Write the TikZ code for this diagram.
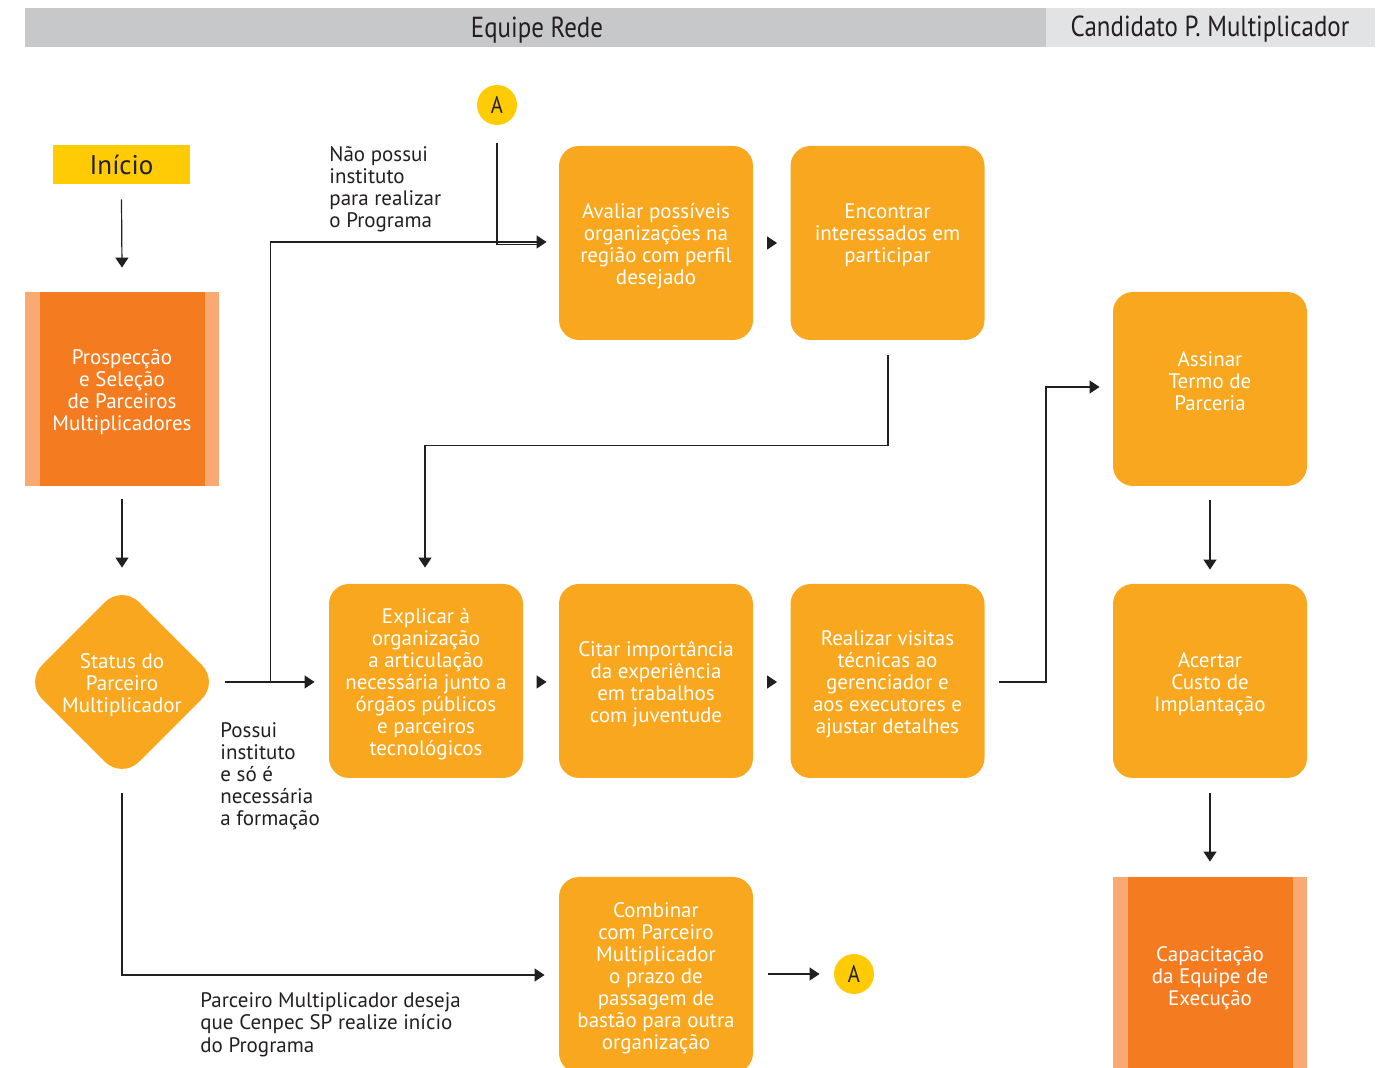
\documentclass[tikz,border=0pt]{standalone}
\usepackage{fontspec}
\setmainfont{PT Sans}
\newfontfamily\headfont[FakeStretch=0.86]{PT Sans}
\usetikzlibrary{arrows.meta,calc,shapes.geometric}

\definecolor{boxfill}{HTML}{F8A71E}
\definecolor{orangefill}{HTML}{F47B20}
\definecolor{stripefill}{HTML}{F9AA72}
\definecolor{marker}{HTML}{FFCB05}
\definecolor{headdark}{HTML}{C7C8CA}
\definecolor{headlight}{HTML}{E2E3E5}
\definecolor{ink}{HTML}{231F20}

\begin{document}
\begin{tikzpicture}[x=0.5pt,y=-0.5pt,
  font=\fontsize{10.5}{11}\selectfont,
  stepbox/.style={fill=boxfill, rounded corners=10pt, minimum width=97pt,
    minimum height=97pt, inner sep=0pt},
  phasebox/.style={fill=stripefill, minimum width=97pt, minimum height=97pt,
    inner sep=0pt,
    path picture={\fill[orangefill]
      ([xshift=7.5pt]path picture bounding box.south west) rectangle
      ([xshift=-7pt]path picture bounding box.north east);}},
  boxtext/.style={text=white, align=center, inner sep=0pt},
  marknode/.style={circle, fill=marker, minimum size=20pt, inner sep=0pt,
    text=ink, font=\headfont\fontsize{12}{12}\selectfont},
  note/.style={anchor=base west, align=left, inner sep=0pt, text=ink},
  line/.style={draw=ink, line width=0.6pt},
  arr/.style={line, -{Triangle[length=5pt,width=6.5pt]}},
]
\clip (0,0) rectangle (1388,1068);

% header bands
\fill[headdark] (25,8) rectangle (1046,47);
\fill[headlight] (1046,8) rectangle (1375,47);
\node[text=ink, font=\headfont\fontsize{14.5}{14.5}\selectfont] (hrede) at (537,30) {Equipe Rede};
\node[text=ink, font=\headfont\fontsize{14.5}{14.5}\selectfont] (hcand) at (1210,29) {Candidato P. Multiplicador};

% start and first phase
\node[fill=marker, minimum width=68.5pt, minimum height=19.5pt, inner sep=0pt,
  text=ink, font=\fontsize{13.5}{13.5}\selectfont] (inicio) at (121.5,164.5) {Início};
\node[phasebox] (prosp) at (122,389) {};
\node[boxtext] (prosptxt) at ($(prosp)+(0,3)$) {Prospecção\\e Seleção\\de Parceiros\\Multiplicadores};

% decision
\node[diamond, fill=boxfill, minimum width=97pt, minimum height=97pt,
  inner sep=0pt, rounded corners=12pt] (status) at (122,682) {};
\node[boxtext] (statustxt) at ($(status.center)+(0,3)$) {Status do\\Parceiro\\Multiplicador};

% steps
\node[stepbox] (avaliar) at (656,243) {};
\node[boxtext] (avaliartxt) at ($(avaliar)+(0,3)$) {Avaliar possíveis\\organizações na\\região com perfil\\desejado};
\node[stepbox] (encontrar) at (887.5,243) {};
\node[boxtext] (encontrartxt) at ($(encontrar)+(0,-8)$) {Encontrar\\interessados em\\participar};
\node[stepbox] (explicar) at (426,681) {};
\node[boxtext] (explicartxt) at ($(explicar)+(0,3)$) {Explicar à\\organização\\a articulação\\necessária junto a\\órgãos públicos\\e parceiros\\tecnológicos};
\node[stepbox] (citar) at (656,681) {};
\node[boxtext] (citartxt) at ($(citar)+(0,3)$) {Citar importância\\da experiência\\em trabalhos\\com juventude};
\node[stepbox] (realizar) at (887.5,681) {};
\node[boxtext] (realizartxt) at ($(realizar)+(0,3)$) {Realizar visitas\\técnicas ao\\gerenciador e\\aos executores e\\ajustar detalhes};
\node[stepbox] (assinar) at (1210,389) {};
\node[boxtext] (assinartxt) at ($(assinar)+(0,-8)$) {Assinar\\Termo de\\Parceria};
\node[stepbox] (acertar) at (1210,681) {};
\node[boxtext] (acertartxt) at ($(acertar)+(0,3)$) {Acertar\\Custo de\\Implantação};
\node[stepbox, minimum height=98pt] (combinar) at (656,975) {};
\node[boxtext] (combinartxt) at ($(combinar)+(0,3)$) {Combinar\\com Parceiro\\Multiplicador\\o prazo de\\passagem de\\bastão para outra\\organização};
\node[phasebox, minimum height=98pt] (capac) at (1210,975) {};
\node[boxtext] (capactxt) at ($(capac)+(0,3)$) {Capacitação\\da Equipe de\\Execução};

% connectors
\node[marknode] (A1) at (497,105) {A};
\node[marknode] (A2) at (854,974) {A};

\draw[arr] ($(inicio.south)+(0,15)$) -- ($(prosp.north)+(0,-24)$);
\draw[arr] ($(prosp.south)+(0,13)$) -- ($(status.north)+(0,-17)$);
\draw[arr] ($(status.east)+(6,0)$) -- ($(explicar.west)+(-14,1)$);
\coordinate (fork) at ($(status.east)+(51,0)$);
\draw[arr] (fork) |- ($(avaliar.west)+(-12,-1)$);
\draw[line] ($(A1.south)+(0,18)$) |- ($(avaliar.west)+(-19,1.5)$);
\draw[arr] ($(status.south)+(0,14)$) |- ($(combinar.west)+(-14,0)$);
\draw[arr] ($(combinar.east)+(15,-1)$) -- ($(A2.west)+(-14,0)$);

\draw[arr] ($(avaliar.east)+(14,0)$) -- ($(encontrar.west)+(-13,0)$);
\draw[arr] ($(explicar.east)+(14,1)$) -- ($(citar.west)+(-12,1)$);
\draw[arr] ($(citar.east)+(14,1)$) -- ($(realizar.west)+(-13,1)$);

\draw[arr] ($(encontrar.south)+(0.5,15)$) -- ++(0,90) -| ($(explicar.north)+(-1,-16)$);
\coordinate (rise) at ($(realizar.east)+(61,1)$);
\draw[arr] ($(realizar.east)+(14,1)$) -- (rise) |- ($(assinar.west)+(-13,-2)$);
\draw[arr] ($(assinar.south)+(0,14)$) -- ($(acertar.north)+(0,-14)$);
\draw[arr] ($(acertar.south)+(0,15)$) -- ($(capac.north)+(0,-15)$);

% branch labels (anchored at the baseline of their last line)
\node[note] (lnao) at (329,228) {Não possui\\instituto\\para realizar\\o Programa};
\node[note] (lpossui) at (220,826) {Possui\\instituto\\e só é\\necessária\\a formação};
\node[note] (ldeseja) at (200,1052) {Parceiro Multiplicador deseja\\que Cenpec SP realize início\\do Programa};
\end{tikzpicture}
\end{document}
